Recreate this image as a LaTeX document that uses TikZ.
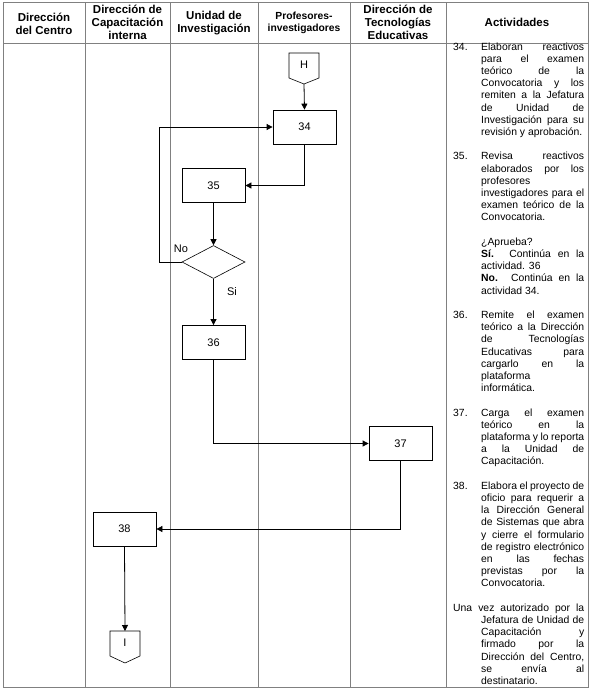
\documentclass[tikz,border=0pt]{standalone}
\usepackage{fontspec}
\setmainfont{Liberation Sans}
\usetikzlibrary{shapes.geometric,arrows.meta,calc}
\newcommand\JA[2]{\hbox to 131pt{\hbox to 28pt{#1\hfil}\hbox to 103pt{#2}}}
\newcommand\LA[2]{\hbox to 131pt{\hbox to 28pt{#1\hfil}\hbox to 103pt{#2\hfil}}}
\newcommand\BL{\hbox{}}
\hbadness=10000 \hfuzz=20pt
\begin{document}
\begin{tikzpicture}[x=1pt,y=-1pt,
  grid/.style={draw=black!50,line width=0.8pt},
  hd/.style={font=\fontsize{11.5}{13}\selectfont\bfseries,align=center,inner sep=0pt},
  hdsmall/.style={font=\fontsize{10.3}{12}\selectfont\bfseries,align=center,inner sep=0pt},
  box/.style={draw=black,line width=0.8pt,minimum width=63pt,minimum height=34pt,inner sep=0pt,font=\fontsize{11}{12}\selectfont},
  dec/.style={draw=black,line width=0.6pt,diamond,minimum width=63pt,minimum height=33pt,inner sep=0pt},
  lbl/.style={font=\fontsize{11}{12}\selectfont,inner sep=0pt},
  arr/.style={draw=black,line width=0.8pt,-{Triangle[length=6pt,width=6pt]}},
  conn/.style={draw=black,line width=0.6pt}]
\useasboundingbox (0,0) rectangle (590,691);
\fill[white] (0,0) rectangle (590,691);
% table
\draw[grid] (3,2) rectangle (588,687);
\draw[grid] (3,43) -- (588,43);
\foreach \xx in {85,170,258,350,446} \draw[grid] (\xx,2) -- (\xx,687);
% header
\node[hd] (h1) at (44,23.5) {Dirección\\del Centro};
\node[hd] (h2) at (127.5,22) {Dirección de\\Capacitación\\interna};
\node[hd] (h3) at (214,23.5) {Unidad de\\Investigación};
\node[hdsmall] (h4) at (304,22.5) {Profesores-\\investigadores};
\node[hd] (h5) at (398,22) {Dirección de\\Tecnologías\\Educativas};
\node[hd] (h6) at (517,22) {Actividades};
% connector H
\node[lbl] (H) at (304,65) {H};
\draw[conn] ($(H)+(-15,-12)$) -- ($(H)+(15,-12)$) -- ($(H)+(15,13)$) -- ($(H)+(0,19)$) -- ($(H)+(-15,13)$) -- cycle;
\coordinate (Hp) at ($(H)+(0,19)$);
% boxes
\node[box] (n34) at (304.5,127) {34};
\node[box] (n35) at (213.5,185.5) {35};
\node[dec] (d) at (213.5,262) {};
\node[box] (n36) at (213.5,342.5) {36};
\node[box] (n37) at (400.5,443.5) {37};
\node[box] (n38) at (124.5,529) {38};
% connector I
\node[lbl] (I) at (125,643) {I};
\draw[conn] ($(I)+(-15,-12)$) -- ($(I)+(15,-12)$) -- ($(I)+(15,13)$) -- ($(I)+(0,20)$) -- ($(I)+(-15,13)$) -- cycle;
\coordinate (It) at ($(I)+(0,-12)$);
% arrows
\draw[arr] (Hp) -- (n34.north);
\draw[arr] (n34.south) |- (n35.east);
\draw[arr] (n35.south) -- (d.north);
\draw[arr] (d.west) -- ++(-22,0) |- (n34.west);
\draw[arr] (d.south) -- (n36.north);
\draw[arr] (n36.south) |- (n37.west);
\draw[arr] (n37.south) |- (n38.east);
\draw[arr] (n38.south) -- (It);
\node[lbl] (no) at (181,249) {No};
\node[lbl] (si) at (232,292) {Si};
% activities
\node[anchor=base west,inner sep=0pt,font=\fontsize{10.4}{12.2}\selectfont] (act) at (453,50) {\vtop{\hsize=131pt\baselineskip=12.2pt\lineskiplimit=-100pt
\JA{34.}{Elaboran reactivos}
\JA{}{para el examen}
\JA{}{teórico de la}
\JA{}{Convocatoria y los}
\JA{}{remiten a la Jefatura}
\JA{}{de Unidad de}
\JA{}{Investigación para su}
\LA{}{revisión y aprobación.}
\BL
\JA{35.}{Revisa reactivos}
\JA{}{elaborados por los}
\LA{}{profesores}
\JA{}{investigadores para el}
\JA{}{examen teórico de la}
\LA{}{Convocatoria.}
\BL
\LA{}{¿Aprueba?}
\JA{}{\textbf{Sí.} Continúa en la}
\LA{}{actividad. 36}
\JA{}{\textbf{No.} Continúa en la}
\LA{}{actividad 34.}
\BL
\JA{36.}{Remite el examen}
\JA{}{teórico a la Dirección}
\JA{}{de Tecnologías}
\JA{}{Educativas para}
\JA{}{cargarlo en la}
\LA{}{plataforma}
\LA{}{informática.}
\BL
\JA{37.}{Carga el examen}
\JA{}{teórico en la}
\JA{}{plataforma y lo reporta}
\JA{}{a la Unidad de}
\LA{}{Capacitación.}
\BL
\JA{38.}{Elabora el proyecto de}
\JA{}{oficio para requerir a}
\JA{}{la Dirección General}
\JA{}{de Sistemas que abra}
\JA{}{y cierre el formulario}
\JA{}{de registro electrónico}
\JA{}{en las fechas}
\JA{}{previstas por la}
\LA{}{Convocatoria.}
\BL
\hbox to 131pt{Una vez autorizado por la}
\JA{}{Jefatura de Unidad de}
\JA{}{Capacitación y}
\JA{}{firmado por la}
\JA{}{Dirección del Centro,}
\JA{}{se envía al}
\LA{}{destinatario.}
}};
\end{tikzpicture}
\end{document}
